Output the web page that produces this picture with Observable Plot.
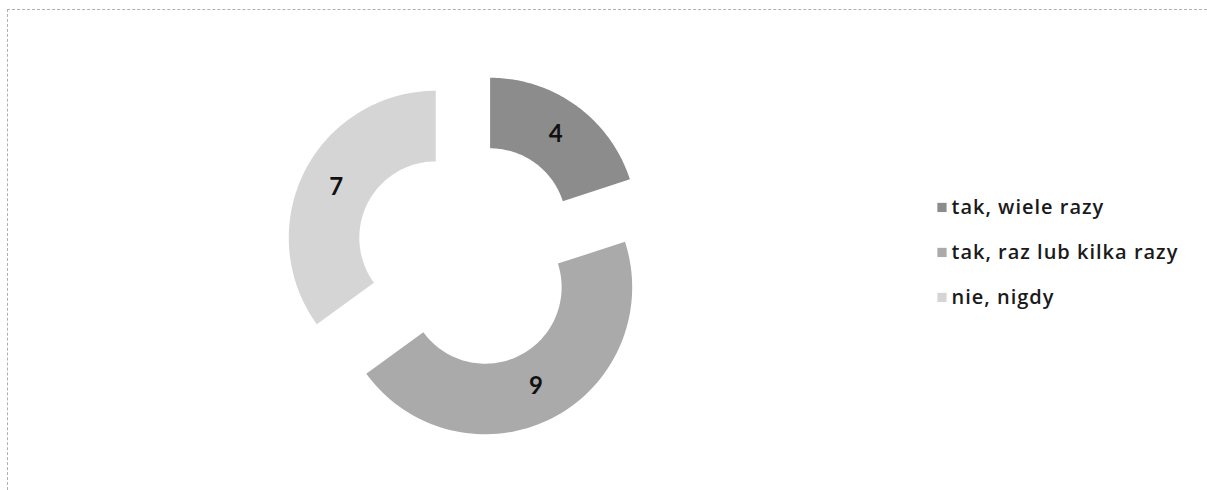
<!DOCTYPE html>
<html>
<head>
<meta charset="utf-8">
<script src="https://cdn.jsdelivr.net/npm/d3@7"></script>
<script src="https://cdn.jsdelivr.net/npm/@observablehq/plot@0.6"></script>
<style>
  html, body { margin: 0; padding: 0; background: #fff; overflow: hidden; }
  #wrap { position: relative; width: 1207px; height: 490px; }
  #frame { position: absolute; left: 7px; top: 9px; right: 0; bottom: -5px;
           border-top: 1px dashed #b0b0b0; border-left: 1px dashed #b0b0b0; }
  #chart { position: absolute; left: 0; top: 0; }
  #chart svg > g[aria-label="text"]:last-of-type text { letter-spacing: 1px; }
</style>
</head>
<body>
<div id="wrap"><div id="frame"></div><div id="chart"></div></div>
<script>
// ---- data ----
const categories = ["tak, wiele razy", "tak, raz lub kilka razy", "nie, nigdy"];
const values = [4, 9, 7];

// ---- layout / style constants ----
const W = 1207, H = 490;
const cx = 468, cy = 254, R = 147;      // pixel centre and outer radius
const innerRatio = 0.52;                 // hole size
const explode = 0.25;                    // slice explosion (fraction of radius)
const palette = ["#8c8c8c", "#aaaaaa", "#d5d5d5"];

const total = d3.sum(values);
const slices = [];
let acc = 0;
values.forEach((v, i) => {
  const a0 = acc / total * 2 * Math.PI;
  acc += v;
  const a1 = acc / total * 2 * Math.PI;
  const mid = (a0 + a1) / 2;
  const ox = explode * Math.sin(mid), oy = explode * Math.cos(mid);
  const rm = (1 + innerRatio) / 2;
  slices.push({cat: categories[i], value: v, a0, a1, ox, oy,
               lx: ox + rm * Math.sin(mid), ly: oy + rm * Math.cos(mid)});
});

const pts = [];
for (const s of slices) {
  const n = 80;
  for (let k = 0; k <= n; k++) {
    const a = s.a0 + (s.a1 - s.a0) * k / n;
    pts.push({cat: s.cat, x: s.ox + Math.sin(a), y: s.oy + Math.cos(a)});
  }
  for (let k = n; k >= 0; k--) {
    const a = s.a0 + (s.a1 - s.a0) * k / n;
    pts.push({cat: s.cat, x: s.ox + innerRatio * Math.sin(a), y: s.oy + innerRatio * Math.cos(a)});
  }
}

// legend rows in chart units
const legendX = 3.221, legendY0 = 0.32, legendStep = 0.306;
const legend = categories.map((c, i) => ({cat: c, x: legendX, y: legendY0 - i * legendStep}));

const chart = Plot.plot({
  width: W, height: H,
  margin: 0,
  style: {background: "transparent", overflow: "visible"},
  x: {domain: [-1, 1], range: [cx - R, cx + R], axis: null},
  y: {domain: [-1, 1], range: [cy + R, cy - R], axis: null},
  color: {domain: categories, range: palette},
  marks: [
    Plot.line(pts, {x: "x", y: "y", z: "cat", fill: "cat", stroke: null, curve: "linear-closed"}),
    Plot.text(slices, {x: "lx", y: "ly", text: d => String(d.value), fill: "#111",
      fontSize: 24, fontWeight: "bold", fontFamily: "Lato, 'Open Sans', sans-serif"}),
    Plot.dot(legend, {x: "x", y: "y", symbol: "square", r: 5.2, fill: "cat", stroke: null}),
    Plot.text(legend, {x: "x", y: "y", text: "cat", textAnchor: "start", dx: 9.5, fill: "#1a1a1a",
      fontSize: 20, fontWeight: 600, fontFamily: "'Open Sans', Lato, sans-serif"})
  ]
});
document.getElementById("chart").appendChild(chart);
</script>
</body>
</html>
